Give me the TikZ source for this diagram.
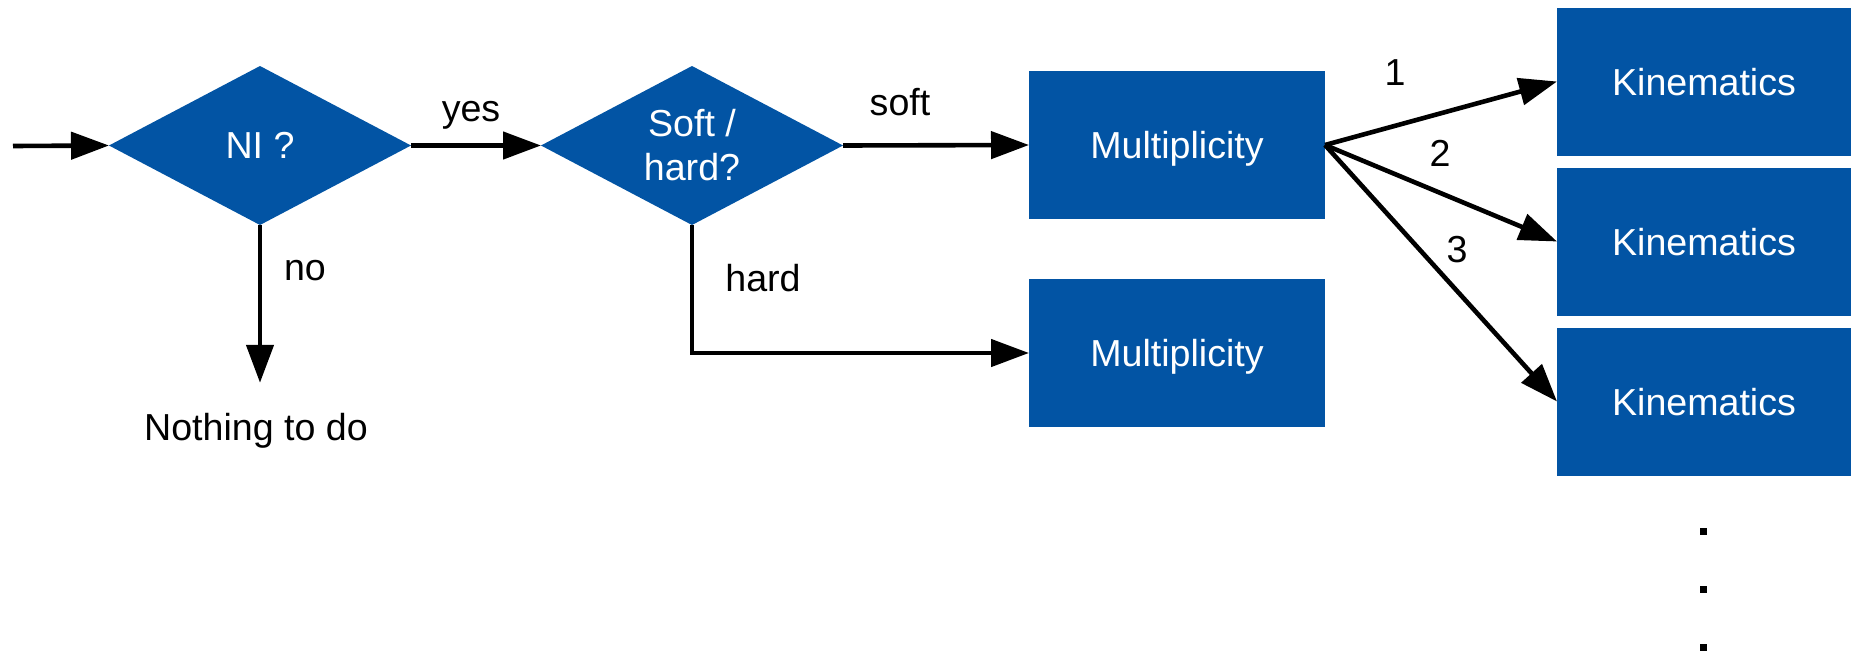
\documentclass[tikz,border=0pt]{standalone}
\usepackage{fontspec}
\setmainfont{Liberation Sans}
\usetikzlibrary{shapes.geometric,arrows.meta}
\definecolor{nblue}{RGB}{2,84,164}
\begin{document}
\begin{tikzpicture}[
  x=0.5pt, y=-0.5pt,
  font=\fontsize{18.8}{22}\selectfont,
  decision/.style={diamond, fill=nblue, text=white, align=center,
    minimum width=151pt, minimum height=79.5pt, shape aspect=1.9,
    inner sep=0pt, outer sep=0pt},
  stage/.style={rectangle, fill=nblue, text=white, text depth=0pt,
    minimum height=74pt, inner sep=0pt, outer sep=0pt},
  flow/.style={line width=2.3pt, -{Triangle[length=19pt,width=13.5pt]}},
  lbl/.style={anchor=base, inner sep=0pt},
  dotmark/.style={rectangle, fill=black, minimum size=3.5pt, inner sep=0pt}
]
\useasboundingbox (0,0) rectangle (1851,653);

% decisions
\node[decision] (ni) at (260,145.5) {NI ?};
\node[decision] (sh) at (692,145.5) {Soft /\\hard?};

% multiplicity stages
\node[stage, minimum width=148pt] (m1) at (1177,145) {Multiplicity};
\node[stage, minimum width=148pt] (m2) at (1177,353) {Multiplicity};

% kinematics stages, flush with the right edge
\node[stage, minimum width=147pt] (k1) at (1704,81.5) {Kinematics};
\node[stage, minimum width=147pt] (k2) at (1704,241.5) {Kinematics};
\node[stage, minimum width=147pt] (k3) at (1704,401.5) {Kinematics};

% end state
\node[inner xsep=0pt, inner ysep=15pt, outer sep=0pt, anchor=base] (nothing) at (256,440) {Nothing to do};

\coordinate (start) at (13,146);

% connectors
\draw[flow] (start) -- (ni.west);
\draw[flow] (ni.east) -- (sh.west);
\draw[flow] (ni.south) -- (ni.south |- nothing.north);
\draw[flow] (sh.east) -- (m1.west);
\draw[flow] (sh.south) |- (m2.west);
\draw[flow] (m1.east) -- (k1.west);
\draw[flow] (m1.east) -- (k2.west);
\draw[flow] (m1.east) -- (k3.west);

% connector labels
\node[lbl] (lyes)  at (471,121) {yes};
\node[lbl] (lsoft) at (900,115) {soft};
\node[lbl] (lno)   at (305,280) {no};
\node[lbl] (lhard) at (763,291) {hard};
\node[lbl] (l1)    at (1395,85)  {1};
\node[lbl] (l2)    at (1440,166) {2};
\node[lbl] (l3)    at (1457,262) {3};

% continuation dots
\node[dotmark] (c1) at (1703,531.5) {};
\node[dotmark] (c2) at (1703,589.5) {};
\node[dotmark] (c3) at (1703,647) {};
\end{tikzpicture}
\end{document}
